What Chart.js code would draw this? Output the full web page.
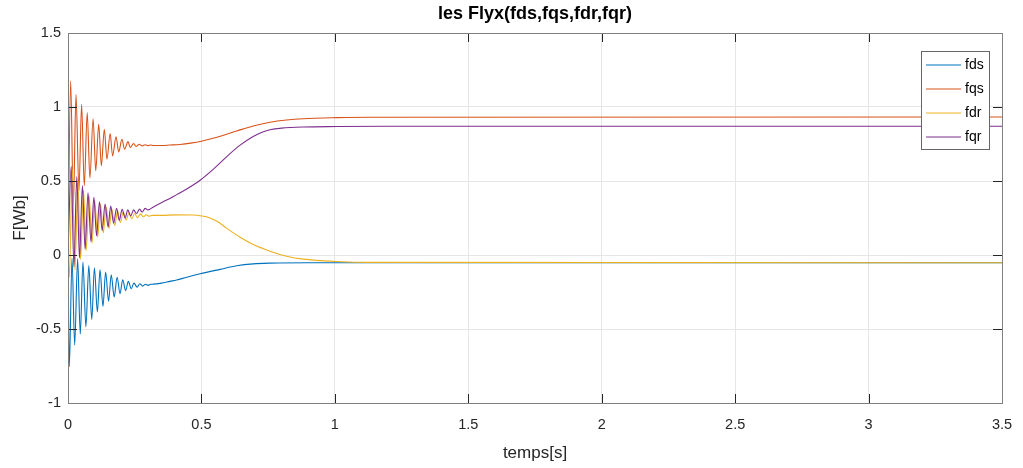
<!DOCTYPE html>
<html>
<head>
<meta charset="utf-8">
<script src="https://cdn.jsdelivr.net/npm/chart.js@4/dist/chart.umd.min.js"></script>
<style>
  html, body { margin: 0; padding: 0; background: #fff; }
  #wrap { width: 1023px; height: 468px; }
</style>
</head>
<body>
<div id="wrap"><canvas id="fluxChart" width="1023" height="468"></canvas></div>
<script>
// values: [time (s), flux (Wb)]
const fds = [
  [0, 0], [0.005, -0.755], [0.015, -0.02], [0.025, -0.609], [0.036, -0.026], [0.046, -0.535],
  [0.056, -0.048], [0.067, -0.486], [0.078, -0.071], [0.089, -0.436], [0.099, -0.086],
  [0.110, -0.385], [0.120, -0.100], [0.131, -0.347], [0.141, -0.116], [0.152, -0.313],
  [0.162, -0.133], [0.173, -0.284], [0.184, -0.150], [0.195, -0.261], [0.205, -0.167],
  [0.216, -0.241], [0.226, -0.178], [0.237, -0.228], [0.247, -0.190], [0.259, -0.217],
  [0.269, -0.194], [0.280, -0.210], [0.290, -0.198], [0.300, -0.205], [0.310, -0.198],
  [0.320, -0.197], [0.350, -0.190], [0.382, -0.178], [0.407, -0.169], [0.445, -0.150],
  [0.495, -0.127], [0.570, -0.097], [0.632, -0.073], [0.694, -0.060], [0.757, -0.055],
  [0.900, -0.052], [3.5, -0.052]
];
const fqs = [
  [0, 0], [0.010, 1.175], [0.020, 0.33], [0.030, 1.085], [0.041, 0.434], [0.051, 1.018],
  [0.061, 0.468], [0.072, 0.962], [0.082, 0.520], [0.094, 0.921], [0.104, 0.569],
  [0.115, 0.883], [0.125, 0.603], [0.136, 0.850], [0.146, 0.648], [0.158, 0.820],
  [0.167, 0.670], [0.180, 0.798], [0.190, 0.697], [0.202, 0.782], [0.212, 0.715],
  [0.225, 0.766], [0.233, 0.726], [0.246, 0.753], [0.255, 0.733], [0.267, 0.748],
  [0.278, 0.737], [0.289, 0.745], [0.300, 0.739], [0.310, 0.743], [0.320, 0.740],
  [0.350, 0.740], [0.382, 0.743], [0.420, 0.747], [0.460, 0.756], [0.500, 0.769],
  [0.540, 0.787], [0.580, 0.808], [0.632, 0.838], [0.694, 0.872], [0.757, 0.897],
  [0.819, 0.912], [0.882, 0.921], [1.007, 0.928], [1.130, 0.931], [3.5, 0.932]
];
const fdr = [
  [0, 0], [0.005, -0.15], [0.016, 0.58], [0.026, -0.10], [0.037, 0.50], [0.047, -0.03],
  [0.058, 0.44], [0.068, 0.03], [0.079, 0.40], [0.090, 0.08], [0.100, 0.37],
  [0.111, 0.12], [0.122, 0.345], [0.132, 0.15], [0.143, 0.325], [0.154, 0.18],
  [0.164, 0.31], [0.175, 0.20], [0.186, 0.298], [0.196, 0.22], [0.207, 0.29],
  [0.218, 0.235], [0.228, 0.285], [0.239, 0.245], [0.250, 0.28], [0.260, 0.252],
  [0.272, 0.278], [0.282, 0.258], [0.293, 0.272], [0.304, 0.262], [0.315, 0.268],
  [0.350, 0.268], [0.407, 0.271], [0.470, 0.270], [0.500, 0.264], [0.530, 0.252],
  [0.560, 0.226], [0.595, 0.180], [0.645, 0.120], [0.694, 0.071], [0.757, 0.026],
  [0.819, -0.008], [0.882, -0.028], [1.007, -0.044], [1.130, -0.050], [3.5, -0.052]
];
const fqr = [
  [0, 0], [0.012, 0.60], [0.022, -0.08], [0.033, 0.53], [0.043, -0.02], [0.054, 0.47],
  [0.064, 0.04], [0.075, 0.42], [0.086, 0.09], [0.097, 0.39], [0.107, 0.13],
  [0.118, 0.36], [0.128, 0.165], [0.139, 0.345], [0.150, 0.19], [0.160, 0.33],
  [0.171, 0.215], [0.182, 0.315], [0.192, 0.235], [0.203, 0.308], [0.214, 0.25],
  [0.224, 0.305], [0.235, 0.265], [0.246, 0.305], [0.257, 0.28], [0.268, 0.31],
  [0.278, 0.29], [0.289, 0.315], [0.300, 0.305], [0.320, 0.325], [0.357, 0.360],
  [0.382, 0.382], [0.407, 0.408], [0.445, 0.446], [0.495, 0.505], [0.545, 0.580],
  [0.595, 0.665], [0.645, 0.742], [0.694, 0.800], [0.725, 0.828], [0.757, 0.846],
  [0.800, 0.857], [0.882, 0.865], [1.007, 0.868], [1.200, 0.870], [3.5, 0.870]
];

const seriesNames = ["fds", "fqs", "fdr", "fqr"];
const seriesColors = ["#0072BD", "#D95319", "#EDB120", "#7E2F8E"];
const xTickLabels = ["0", "0.5", "1", "1.5", "2", "2.5", "3", "3.5"];
const yTickLabels = ["-1", "-0.5", "0", "0.5", "1", "1.5"];
const chartTitle = "les Flyx(fds,fqs,fdr,fqr)";

const FONT = "'Liberation Sans', Arial, Helvetica, sans-serif";

// MATLAB style box, inward ticks, title over the axes and legend inside them
const axesBox = {
  id: "axesBox",
  afterDatasetsDraw(chart) {
    const { ctx, chartArea: a, scales } = chart;
    ctx.save();
    ctx.strokeStyle = "#262626";
    ctx.lineWidth = 1;
    const tl = 9;
    ctx.beginPath();
    scales.x.ticks.forEach(t => {
      const px = Math.round(scales.x.getPixelForValue(t.value)) + 0.5;
      ctx.moveTo(px, a.bottom); ctx.lineTo(px, a.bottom - tl);
      ctx.moveTo(px, a.top); ctx.lineTo(px, a.top + tl);
    });
    scales.y.ticks.forEach(t => {
      const py = Math.round(scales.y.getPixelForValue(t.value)) + 0.5;
      ctx.moveTo(a.left, py); ctx.lineTo(a.left + tl, py);
      ctx.moveTo(a.right, py); ctx.lineTo(a.right - tl, py);
    });
    ctx.stroke();
    ctx.strokeStyle = "#808080";
    ctx.strokeRect(Math.round(a.left) + 0.5, Math.round(a.top) + 0.5,
      Math.round(a.right - a.left), Math.round(a.bottom - a.top));

    // title, centred on the axes like MATLAB does
    ctx.fillStyle = "#000";
    ctx.font = "bold 18px " + FONT;
    ctx.textAlign = "center";
    ctx.textBaseline = "middle";
    ctx.fillText(chartTitle, (a.left + a.right) / 2, 14);

    // legend
    const lx = 921.5, ly = 51.5, lw = 68, lh = 98;
    ctx.fillStyle = "#fff";
    ctx.fillRect(lx, ly, lw, lh);
    ctx.strokeStyle = "#666";
    ctx.strokeRect(lx, ly, lw, lh);
    ctx.font = "14px " + FONT;
    ctx.textAlign = "left";
    seriesNames.forEach((name, i) => {
      const y = 65 + i * 24;
      ctx.strokeStyle = seriesColors[i];
      ctx.lineWidth = 1.2;
      ctx.beginPath();
      ctx.moveTo(926, y); ctx.lineTo(961, y);
      ctx.stroke();
      ctx.fillStyle = "#000";
      ctx.fillText(name, 965, y + 0.5);
    });
    ctx.restore();
  }
};

const toPoints = arr => arr.map(p => ({ x: p[0], y: p[1] }));
const allSeries = [fds, fqs, fdr, fqr];

new Chart(document.getElementById("fluxChart"), {
  type: "line",
  data: {
    datasets: allSeries.map((s, i) => ({
      label: seriesNames[i],
      data: toPoints(s),
      borderColor: seriesColors[i],
      backgroundColor: seriesColors[i],
      borderWidth: 1.1,
      pointRadius: 0,
      cubicInterpolationMode: "monotone",
      fill: false,
      order: 3 - i,
    })),
  },
  options: {
    responsive: false,
    animation: false,
    layout: { padding: { right: 21, left: 0, bottom: 0, top: 33 } },
    plugins: {
      legend: { display: false },
      tooltip: { enabled: false },
      title: { display: false },
    },
    scales: {
      x: {
        type: "linear",
        min: 0,
        max: 3.5,
        afterFit(scale) {
          scale.height = 65;
          scale.paddingLeft = 0;
          scale.paddingRight = 0;
        },
        ticks: {
          stepSize: 0.5,
          callback: (v, i) => xTickLabels[i],
          color: "#262626",
          font: { family: FONT, size: 14.5 },
          padding: 13,
          maxRotation: 0,
        },
        grid: { color: "#e6e6e6", drawTicks: false },
        border: { display: false },
        title: {
          display: true,
          text: "temps[s]",
          color: "#262626",
          font: { family: FONT, size: 17 },
          padding: { top: 0, bottom: 4 },
        },
      },
      y: {
        min: -1,
        max: 1.5,
        afterFit(scale) { scale.width = 68; },
        ticks: {
          stepSize: 0.5,
          callback: (v, i) => yTickLabels[i],
          color: "#262626",
          font: { family: FONT, size: 14.5 },
          padding: 7,
        },
        grid: { color: "#e6e6e6", drawTicks: false },
        border: { display: false },
        title: {
          display: true,
          text: "F[Wb]",
          color: "#262626",
          font: { family: FONT, size: 17 },
          padding: { top: 10, bottom: 0 },
        },
      },
    },
  },
  plugins: [axesBox],
});
</script>
</body>
</html>
